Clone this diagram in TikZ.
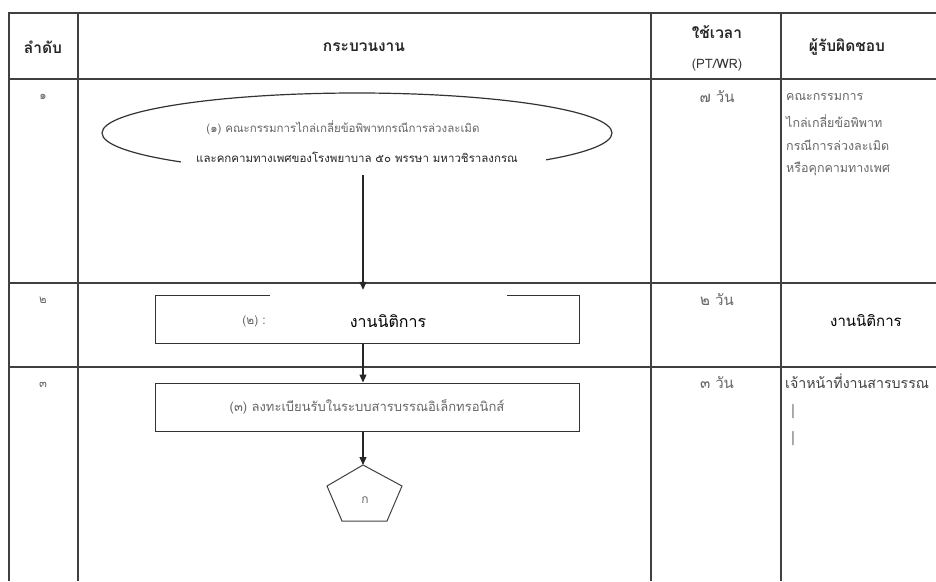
\documentclass[tikz,border=0pt]{standalone}
\usepackage{fontspec}
\setmainfont{Loma}[Script=Thai]
\usepackage{tikz}
\usetikzlibrary{positioning,arrows.meta,shapes.geometric}

\begin{document}
\begin{tikzpicture}[x=1pt,y=-1pt,
    tline/.style={draw=black!75,line width=1.1pt},
    head/.style={font=\fontsize{15.5}{18}\selectfont\bfseries,text=black!85},
    cell/.style={font=\fontsize{11.5}{13}\selectfont,text=black!60,inner sep=0pt},
    big/.style={font=\fontsize{15}{17}\selectfont,inner sep=0pt},
    proc/.style={draw=black!80,line width=1pt,rectangle,minimum width=424,minimum height=48},
    patch/.style={fill=white,inner sep=0pt},
    flow/.style={draw=black!85,line width=1.1pt,-{Triangle[length=8pt,width=7pt]}}]
  \useasboundingbox (0,0) rectangle (936,581);
  % table frame
  \draw[tline] (9,581) -- (9,13) -- (936,13);
  \foreach \ry in {79,283,367} \draw[tline] (9,\ry) -- (936,\ry);
  \foreach \cx in {78,651,781} \draw[tline] (\cx,13) -- (\cx,581);
  % header row
  \node[head] (hno) at (43,47) {ลำดับ};
  \node[head] (hproc) at (364,47) {กระบวนงาน};
  \node[head] (htime) at (717,32) {ใช้เวลา};
  \node[cell,text=black!80,font=\fontsize{13}{15}\selectfont] (hunit) at (717,65) {(PT/WR)};
  \node[head] (hresp) at (847,47) {ผู้รับผิดชอบ};
  % step 1
  \node[cell] (no1) at (43,97) {๑};
  \node[draw=black!80,line width=1.2pt,ellipse,minimum width=510,minimum height=80] (ell1) at (357,133) {};
  \node[patch,minimum width=365,minimum height=67] (s1) at (363,141) {};
  \node[cell] (s1a) at (343,128) {(๑) คณะกรรมการไกล่เกลี่ยข้อพิพาทกรณีการล่วงละเมิด};
  \node[cell,text=black!85] (s1b) at (357,157) {และคกคามทางเพศของโรงพยาบาล ๕๐ พรรษา มหาวชิราลงกรณ};
  \node[big,text=black!60] (t1) at (717,97) {๗ วัน};
  \node[cell,anchor=west,font=\fontsize{12.5}{14}\selectfont] (r1a) at (786,97) {คณะกรรมการ};
  \node[cell,anchor=west,font=\fontsize{12.5}{14}\selectfont] (r1b) at (786,121) {ไกล่เกลี่ยข้อพิพาท};
  \node[cell,anchor=west,font=\fontsize{12.5}{14}\selectfont] (r1c) at (786,145) {กรณีการล่วงละเมิด};
  \node[cell,anchor=west,font=\fontsize{12.5}{14}\selectfont] (r1d) at (786,169) {หรือคุกคามทางเพศ};
  % step 2
  \node[cell] (no2) at (43,300) {๒};
  \node[proc] (s2box) at (367,319) {};
  \node[cell,font=\fontsize{12}{14}\selectfont] (s2a) at (254,321) {(๒) :};
  \node[patch,minimum width=237,minimum height=50] (s2) at (388,315) {};
  \node[big,font=\fontsize{16}{18}\selectfont] (s2b) at (388,321) {งานนิติการ};
  \node[big,text=black!60] (t2) at (717,300) {๒ วัน};
  \node[big] (r2) at (866,321) {งานนิติการ};
  % step 3
  \node[cell] (no3) at (43,385) {๓};
  \node[proc,cell,font=\fontsize{13}{15}\selectfont,draw=black!80,inner sep=3pt] (s3box) at (367,407) {(๓) ลงทะเบียนรับในระบบสารบรรณอิเล็กทรอนิกส์};
  \node[big,text=black!60] (t3) at (717,383) {๓ วัน};
  \node[big,anchor=west,text=black!75,font=\fontsize{14.2}{16}\selectfont] (r3) at (785,381) {เจ้าหน้าที่งานสารบรรณ};
  \node[big,text=black!50] (r3a) at (793,412) {|};
  \node[big,text=black!50] (r3b) at (793,439) {|};
  % connector page
  \coordinate (pk) at (363,465);
  \draw[draw=black!75,line width=1pt] (pk) -- ++(-36,21) -- ++(15,35) -- ++(45,0) -- ++(15,-35) -- cycle;
  \node[cell,font=\fontsize{12}{14}\selectfont] (pkl) at (365,500) {ก};
  % flow
  \draw[flow] (s1.south) -- (s1.south |- s2.north);
  \draw[flow] (s1.south |- s2box.south) -- (s1.south |- s3box.north);
  \draw[flow] (s3box.south -| pk) -- (pk);
\end{tikzpicture}
\end{document}
